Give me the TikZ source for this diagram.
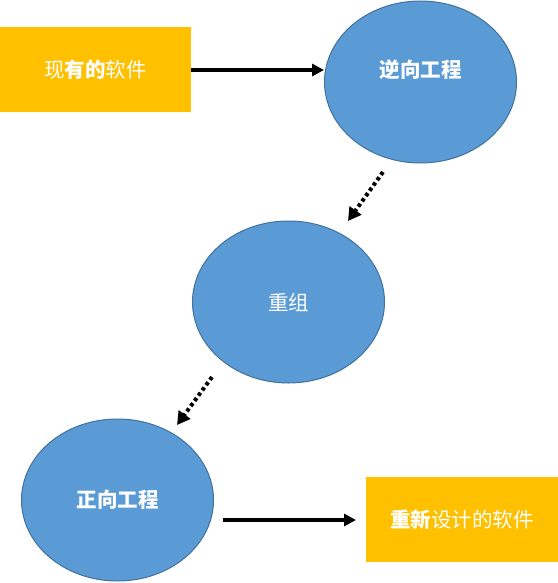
\documentclass[tikz,border=0pt]{standalone}
\usepackage{fontspec}
\newfontfamily\cjk{Noto Sans CJK SC}
\usetikzlibrary{shapes.geometric,arrows.meta,calc}
\definecolor{boxorange}{HTML}{FFC000}
\definecolor{ellblue}{HTML}{5B9BD5}
\definecolor{ellborder}{HTML}{41719C}
\tikzset{
  x=1bp,y=-1bp,
  txt/.style={text=white,font=\cjk\fontsize{20.5bp}{24bp}\selectfont},
  softbox/.style={rectangle,fill=boxorange,draw=none,minimum width=191bp,minimum height=85bp,inner sep=0pt,anchor=north west,txt},
  stage/.style={ellipse,fill=ellblue,draw=ellborder,line width=1bp,minimum width=192bp,minimum height=162bp,inner sep=0pt,txt},
  solidarrow/.style={line width=3.5bp,-{Triangle[length=12bp,width=12bp]}},
  dotarrow/.style={line width=4bp,dash pattern=on 3.5bp off 3bp,-{Triangle[length=13bp,width=14bp]}}
}
\begin{document}
\begin{tikzpicture}
\useasboundingbox (0,0) rectangle (558,583);
\node[softbox] (src) at (0,27) {现{\bfseries 有的}软件};
\node[stage,label={[txt,yshift=12bp]center:{\bfseries 逆向工程}}] (rev) at (420.5,82) {};
\node[stage] (reorg) at (288.5,302) {重组};
\node[stage] (fwd) at (117.5,500) {{\bfseries 正向工程}};
\node[softbox,minimum width=192bp] (dst) at (366,477) {{\bfseries 重新}设计的软件};
\coordinate (d1s) at (383,172);
\coordinate (d1e) at (348,221);
\coordinate (d2s) at (212,377);
\coordinate (d2e) at (177,425);
\coordinate (b1s) at (223,520);
\coordinate (b1e) at (356,520);
\draw[solidarrow] (src.east |- 0,70) -- (rev.west |- 0,70);
\draw[dotarrow] (d1s) -- (d1e);
\draw[dotarrow] (d2s) -- (d2e);
\draw[solidarrow] (b1s) -- (b1e);
\end{tikzpicture}
\end{document}
